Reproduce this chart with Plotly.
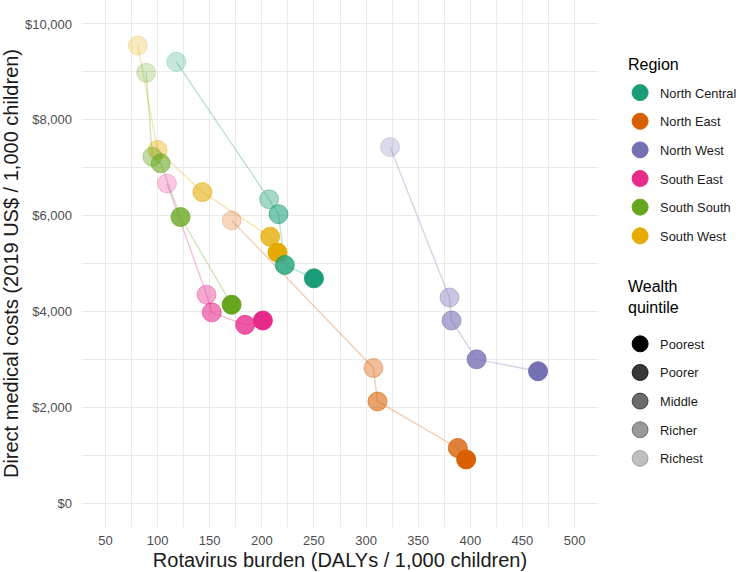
import plotly.graph_objects as go

regions = ["North Central", "North East", "North West", "South East", "South South", "South West"]
quintiles = ["Poorest", "Poorer", "Middle", "Richer", "Richest"]

# values per region, ordered Poorest -> Richest
burden = {
    "North Central": [250, 222, 216, 207, 118],
    "North East":    [396, 388, 311, 307, 171],
    "North West":    [465, 406, 382, 380, 323],
    "South East":    [201, 184, 152, 147, 109],
    "South South":   [171, 122, 103, 95, 89],
    "South West":    [215, 208, 143, 100, 81],
}
costs = {
    "North Central": [4690, 4970, 6030, 6340, 9210],
    "North East":    [910, 1150, 2120, 2820, 5900],
    "North West":    [2750, 3000, 3810, 4290, 7430],
    "South East":    [3810, 3720, 3980, 4350, 6670],
    "South South":   [4140, 5970, 7090, 7230, 8980],
    "South West":    [5230, 5560, 6490, 7370, 9550],
}

x_ticks = [50, 100, 150, 200, 250, 300, 350, 400, 450, 500]
y_ticks = [0, 2000, 4000, 6000, 8000, 10000]
y_tick_labels = ["$0", "$2,000", "$4,000", "$6,000", "$8,000", "$10,000"]

colors = {
    "North Central": "#1B9E77",
    "North East": "#D95F02",
    "North West": "#7570B3",
    "South East": "#E7298A",
    "South South": "#66A61E",
    "South West": "#E6AB02",
}
alphas = [1.0, 0.78, 0.58, 0.40, 0.25]


def rgba(hexc, a):
    h = hexc.lstrip("#")
    r, g, b = int(h[0:2], 16), int(h[2:4], 16), int(h[4:6], 16)
    return f"rgba({r},{g},{b},{a})"


fig = go.Figure()

draw_order = ["North East", "North West", "South East", "South West", "South South", "North Central"]

# lines
for reg in draw_order:
    fig.add_trace(go.Scatter(
        x=burden[reg], y=costs[reg], mode="lines",
        line=dict(color=rgba(colors[reg], 0.3), width=1.4),
        showlegend=False, hoverinfo="skip"))

# points (richest first, poorest on top)
for reg in draw_order:
    xs = burden[reg][::-1]
    ys = costs[reg][::-1]
    al = alphas[::-1]
    cols = [rgba(colors[reg], a) for a in al]
    fig.add_trace(go.Scatter(
        x=xs, y=ys, mode="markers",
        marker=dict(size=19, color=cols, line=dict(color=cols, width=1)),
        showlegend=False, name=reg))

# legend entries: Region
for reg in regions:
    fig.add_trace(go.Scatter(
        x=[None], y=[None], mode="markers", name=reg,
        marker=dict(size=19, color=colors[reg], line=dict(color=colors[reg], width=1)),
        legend="legend", legendgroup=reg, showlegend=True))

# legend entries: Wealth quintile
for q, a in zip(quintiles, alphas):
    c = f"rgba(0,0,0,{a})"
    fig.add_trace(go.Scatter(
        x=[None], y=[None], mode="markers", name=q,
        marker=dict(size=19, color=c, line=dict(color=c, width=1)),
        legend="legend2", legendgroup=q, showlegend=True))

font_family = "Liberation Sans, Arial, sans-serif"

fig.update_layout(
    width=740, height=572,
    margin=dict(l=82, r=142, t=0, b=45),
    plot_bgcolor="white", paper_bgcolor="white",
    font=dict(family=font_family, color="#1a1a1a"),
    xaxis=dict(
        range=[27.5, 522.5], tickvals=x_ticks,
        showgrid=True, gridcolor="#EBEBEB", gridwidth=1.2,
        minor=dict(tickvals=[75, 125, 175, 225, 275, 325, 375, 425, 475], showgrid=True,
                   gridcolor="#EBEBEB", gridwidth=0.6),
        zeroline=False, showline=False, ticks="", automargin=False,
        tickfont=dict(size=13, color="#4D4D4D"), ticklabelstandoff=4,
        title=dict(text="Rotavirus burden (DALYs / 1,000 children)",
                   font=dict(size=20, color="#1a1a1a"), standoff=5),
    ),
    yaxis=dict(
        range=[-500, 10500], tickvals=y_ticks, ticktext=y_tick_labels,
        showgrid=True, gridcolor="#EBEBEB", gridwidth=1.2,
        minor=dict(tickvals=[1000, 3000, 5000, 7000, 9000], showgrid=True,
                   gridcolor="#EBEBEB", gridwidth=0.6),
        zeroline=False, showline=False, ticks="", automargin=False,
        tickfont=dict(size=13, color="#4D4D4D"), ticklabelstandoff=9,
        title=dict(text="Direct medical costs (2019 US$ / 1,000 children)",
                   font=dict(size=20, color="#1a1a1a"), standoff=4),
    ),
    legend=dict(
        xref="container", yref="container",
        x=0.838, xanchor="left", y=0.864, yanchor="top",
        font=dict(size=12.8, color="#1a1a1a"),
        tracegroupgap=9, itemclick=False, bgcolor="rgba(0,0,0,0)",
    ),
    legend2=dict(
        xref="container", yref="container",
        x=0.838, xanchor="left", y=0.4248, yanchor="top",
        font=dict(size=12.8, color="#1a1a1a"),
        tracegroupgap=9, itemclick=False, bgcolor="rgba(0,0,0,0)",
    ),
    annotations=[
        dict(text="Region", xref="paper", yref="paper", x=1.054, y=0.8767,
             xanchor="left", yanchor="middle", showarrow=False,
             font=dict(size=16, color="#000")),
        dict(text="Wealth<br>quintile", xref="paper", yref="paper", x=1.054, y=0.4364,
             xanchor="left", yanchor="middle", showarrow=False, align="left",
             font=dict(size=16, color="#000")),
    ],
)

fig.write_html("out.html", config={"displayModeBar": False},
               post_script="document.body.style.margin='0px';")
